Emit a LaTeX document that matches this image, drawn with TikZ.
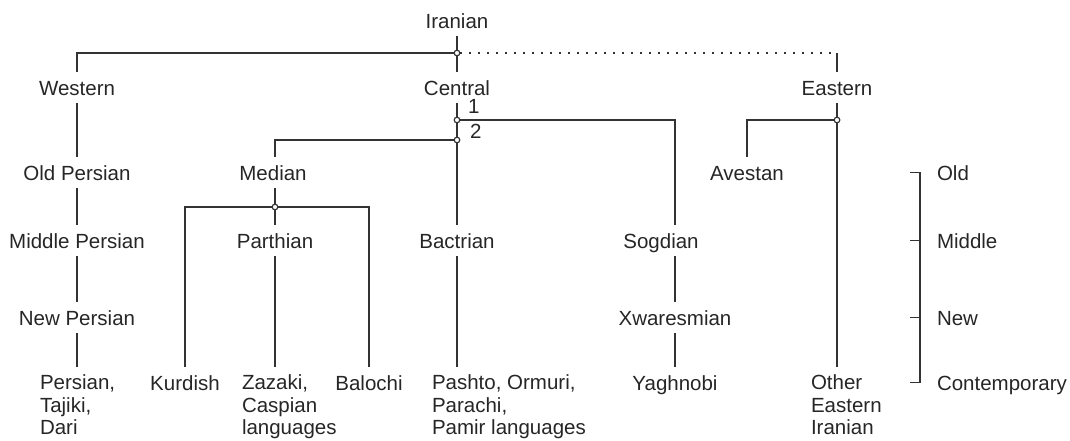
\documentclass[tikz,border=0pt]{standalone}
\usepackage{fontspec}
\newfontfamily\langfont{Liberation Sans}
\usepackage{tikz}
\usetikzlibrary{positioning, calc}

\begin{document}
\begin{tikzpicture}[
      x=0.5pt, y=-0.5pt,
      line width=0.7pt, draw=black!80,
      langbase/.style={
        inner sep=0pt, outer sep=4pt, text=black!85,
        font=\langfont\fontsize{10.25}{11.25}\selectfont,
      },
      lang/.style={
        langbase, anchor=base, text height=7.3pt, text depth=0pt,
      },
      leaf/.style={
        langbase, anchor=north west, align=left,
      },
      junc/.style={
        circle, draw, fill=white, inner sep=0pt, outer sep=0pt,
        minimum size=2.8pt, line width=0.6pt,
      },
      dots/.style={dash pattern=on 1pt off 3.5pt},
    ]
      \useasboundingbox (0,0) rectangle (1070,440);

      % root and branches
      \node[lang] (iran) at (457,28) {Iranian};
      \node[lang] (west) at (77,95) {Western};
      \node[lang] (cent) at (457,95) {Central};
      \node[lang] (east) at (837,95) {Eastern};

      % old languages
      \node[lang] (oldp) at (77,180) {Old Persian};
      \node[lang] (med) at (273,180) {Median};
      \node[lang] (ave) at (747,180) {Avestan};

      % middle languages
      \node[lang] (midp) at (77,248) {Middle Persian};
      \node[lang] (parth) at (275,248) {Parthian};
      \node[lang] (bact) at (457,248) {Bactrian};
      \node[lang] (sogd) at (661,248) {Sogdian};

      % new languages
      \node[lang] (newp) at (77,325) {New Persian};
      \node[lang] (xwar) at (675,325) {Xwaresmian};

      % contemporary languages
      \node[leaf] (pers) at (32,367) {Persian,\\Tajiki,\\Dari};
      \node[lang] (kurd) at (185,390) {Kurdish};
      \node[leaf] (zaz) at (234,367) {Zazaki,\\Caspian\\languages};
      \node[lang] (bal) at (369,390) {Balochi};
      \node[leaf] (pash) at (424,367) {Pashto, Ormuri,\\Parachi,\\Pamir languages};
      \node[lang] (yagh) at (675,390) {Yaghnobi};
      \node[leaf] (oei) at (803,367) {Other\\Eastern\\Iranian};

      % period scale
      \node[lang, anchor=base west] (sold) at (929,180) {Old};
      \node[lang, anchor=base west] (smid) at (929,248) {Middle};
      \node[lang, anchor=base west] (snew) at (929,325) {New};
      \node[lang, anchor=base west] (scon) at (929,390) {Contemporary};

      % split points
      \node[junc] (jtop) at (457,53) {};
      \node[junc] (jone) at (457,120) {};
      \node[junc] (jtwo) at (457,140) {};
      \node[junc] (jeast) at (837,120) {};
      \node[junc] (jmed) at (275,207) {};
      \node[lang, anchor=base west] (none) at (460,113) {1};
      \node[lang, anchor=base west] (ntwo) at (462,138) {2};
      \coordinate (ecorner) at (jtop -| east);

      % top split
      \draw (iran) -- (jtop) -- (cent);
      \draw (jtop) -| (west);
      \draw[dots] (jtop) -- (ecorner);
      \draw (ecorner) -- (east);

      % western branch
      \draw (west) -- (oldp) -- (midp) -- (newp) -- (newp |- pers.north);

      % central branch
      \draw (cent) -- (jone) -- (jtwo) -- (bact) -- (bact |- pash.north);
      \draw (jone) -| (xwar |- sogd.north);
      \draw (xwar |- sogd.south) -- (xwar) -- (yagh);
      \draw (jtwo) -| (parth |- med.north);
      \draw (parth |- med.south) -- (jmed) -- (parth) -- (parth |- zaz.north);
      \draw (jmed) -| (kurd);
      \draw (jmed) -| (bal);

      % eastern branch
      \draw (east) -- (jeast) -- (jeast |- oei.north);
      \draw (jeast) -| (ave);

      % scale bracket
      \coordinate (stop) at ($(sold.west)+(-9,0)$);
      \draw ($(stop)+(-10,0)$) -- (stop) -- (stop |- scon.west) -- ++(-10,0);
      \draw (stop |- smid.west) -- ++(-10,0);
      \draw (stop |- snew.west) -- ++(-10,0);
    \end{tikzpicture}
\end{document}
